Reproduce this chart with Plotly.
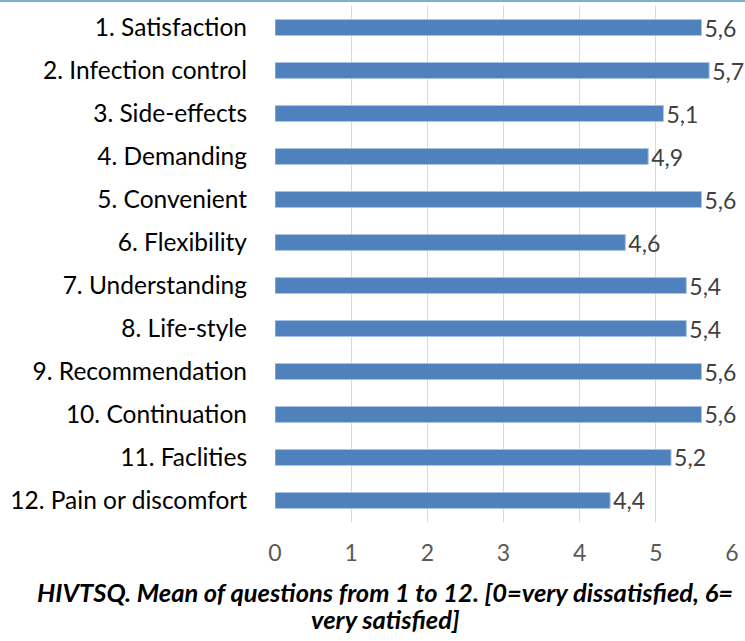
import plotly.graph_objects as go

categories = ["1. Satisfaction", "2. Infection control", "3. Side-effects", "4. Demanding",
              "5. Convenient", "6. Flexibility", "7. Understanding", "8. Life-style",
              "9. Recommendation", "10. Continuation", "11. Faclities", "12. Pain or discomfort"]
values = [5.6, 5.7, 5.1, 4.9, 5.6, 4.6, 5.4, 5.4, 5.6, 5.6, 5.2, 4.4]
tick_vals = [0, 1, 2, 3, 4, 5, 6]
title_line1 = "HIVTSQ. Mean of questions from 1 to 12. [0=very dissatisfied, 6="
title_line2 = "very satisfied]"

labels = [f"{v:.1f}".replace(".", ",") for v in values]

W, H = 745, 641
L, R, T, B = 275, 13, 6, 119
plot_w = W - L - R
plot_h = H - T - B

fig = go.Figure(go.Bar(
    x=values, y=categories, orientation="h",
    marker=dict(color="#4f81bd", line=dict(color="#a9c4e4", width=1)),
    text=labels, textposition="outside", cliponaxis=False, constraintext="none",
    textfont=dict(family="Lato", size=23, color="#404040"),
    hoverinfo="skip",
))

fig.update_layout(
    width=W, height=H,
    margin=dict(l=L, r=R, t=T, b=B, autoexpand=False),
    plot_bgcolor="white", paper_bgcolor="white",
    bargap=0.63, showlegend=False,
    font=dict(family="Lato", size=20, color="#000000"),
)
fig.update_xaxes(
    range=[0, 6], tickvals=tick_vals, showgrid=True, gridcolor="#d9d9d9", gridwidth=1,
    zeroline=False, showline=False, ticks="", ticklabelstandoff=15,
    tickfont=dict(family="Lato", size=23, color="#595959"),
)
fig.update_yaxes(
    autorange="reversed", showgrid=False, showline=False, ticks="",
    ticklabelstandoff=27,
    tickfont=dict(family="Lato", size=24.5, color="#000000"),
)

cx = (385 - L) / plot_w
for txt, ypx in [(title_line1, 592), (title_line2, 619)]:
    fig.add_annotation(
        text="<b><i>" + txt + "</i></b>", xref="paper", yref="paper",
        x=cx, y=-(ypx - (T + plot_h)) / plot_h, xanchor="center", yanchor="middle",
        showarrow=False, font=dict(family="Lato", size=25.5, color="#000000"),
    )

fig.add_shape(type="line", xref="paper", yref="paper", x0=-1, x1=1.1,
              y0=1 + (T - 1) / plot_h, y1=1 + (T - 1) / plot_h,
              line=dict(color="#7fb0c8", width=2))

fig.write_html("out.html", config={"displayModeBar": False},
               post_script="document.body.style.margin='0';document.body.style.overflow='hidden';")
